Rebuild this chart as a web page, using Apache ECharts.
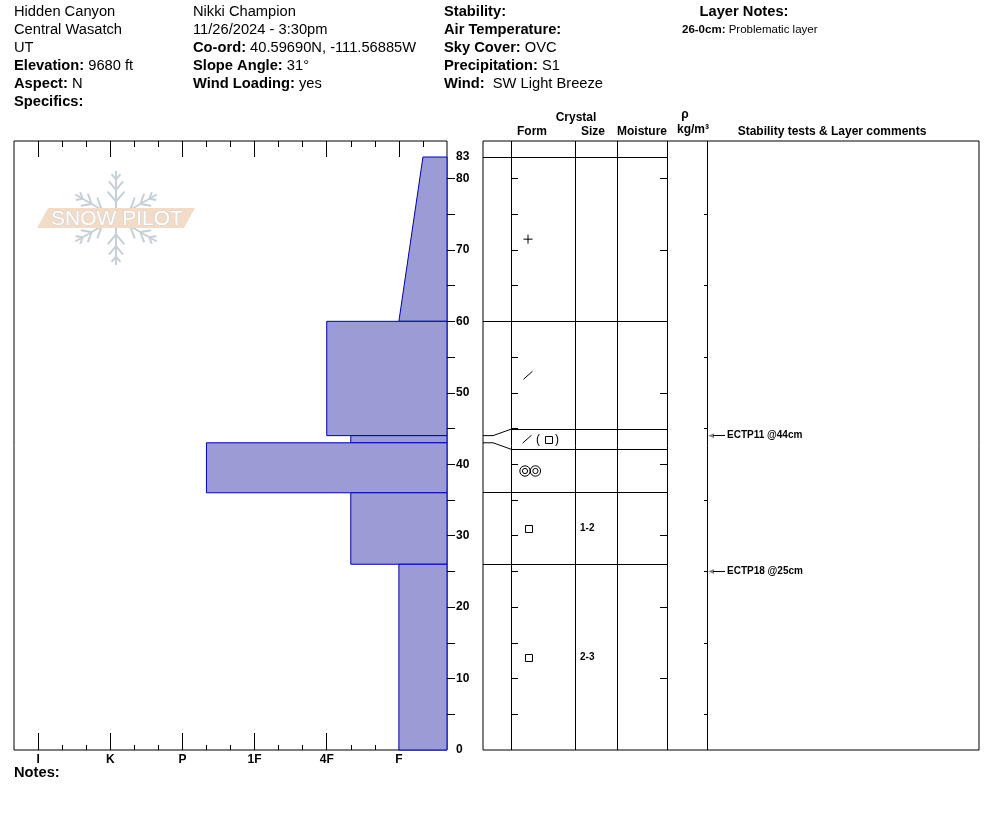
<!DOCTYPE html>
<html>
<head>
<meta charset="utf-8">
<title>Hidden Canyon - snow profile</title>
<script src="https://cdn.jsdelivr.net/npm/echarts@6/dist/echarts.min.js"></script>
<style>
html, body { margin: 0; padding: 0; background: #fff; }
#pit { width: 994px; height: 840px; }
</style>
</head>
<body>
<div id="pit"></div>
<script>
var FONT = '"Liberation Sans", Arial, sans-serif';

// layers, top to bottom, heights in cm above ground
var layerTop = [83, 60, 44, 43, 36, 26];
var layerBottom = [60, 44, 43, 36, 26, 0];
var hardTop = ['F-', '4F', '4F-', 'P-', '4F-', 'F'];
var hardBottom = ['F', '4F', '4F-', 'P-', '4F-', 'F'];
var formPrimary = ['PP', 'DF', 'DF', 'MFcl', 'FC', 'FC'];
var formSecondary = ['', '', 'FC', '', '', ''];
var grainSize = ['', '', '', '', '1-2', '2-3'];

// stability tests
var testDepth = [44, 25];
var testText = ['ECTP11 @44cm', 'ECTP18 @25cm'];

// axes
var hardnessLabels = ['F', '4F', '1F', 'P', 'K', 'I'];
var hardMajor = [2, 5, 8, 11, 14, 17];
var hardMinor = [1, 3, 4, 6, 7, 9, 10, 12, 13, 15, 16];
var depthLabels = [0, 10, 20, 30, 40, 50, 60, 70, 80, 83];
var depthTicks = [5, 10, 15, 20, 25, 30, 35, 40, 45, 50, 55, 60, 65, 70, 75, 80];
var depthTicks10 = [10, 20, 30, 40, 50, 60, 70, 80];
var depthTicks5 = [5, 15, 25, 35, 45, 55, 65, 75];

var YMAX = 85.24;
// right table column edges, px from the left of the table
var colEdges = [0, 28, 92, 134, 184, 224, 496];
var MIN_ROW_PX = 20;

function hardRank(h) {
    var base = h.replace(/[+-]$/, '');
    var r = hardnessLabels.indexOf(base) * 3 + 2;
    if (/-$/.test(h)) r -= 1;
    if (/\+$/.test(h)) r += 1;
    return r;
}

function crisp(v) { return Math.round(v - 0.5) + 0.5; }

var hardnessData = [];
for (var i = 0; i < layerTop.length; i++) {
    hardnessData.push([layerBottom[i], layerTop[i], hardRank(hardBottom[i]), hardRank(hardTop[i])]);
}
var layerIdx = layerTop.map(function (d, i) { return [i]; });

function layerPx(i, api) {
    var top = api.coord([0, layerTop[i]])[1];
    var bot = api.coord([0, layerBottom[i]])[1];
    var r = { top: top, bot: bot, aTop: top, aBot: bot, thin: false };
    if (bot - top < MIN_ROW_PX) {
        var mid = (top + bot) / 2;
        r.top = mid - MIN_ROW_PX / 2;
        r.bot = mid + MIN_ROW_PX / 2;
        r.thin = true;
    }
    return r;
}

function rowBox(i, api) {
    var r = layerPx(i, api);
    if (!r.thin) {
        if (i > 0 && layerPx(i - 1, api).thin) r.top = layerPx(i - 1, api).bot;
        if (i < layerTop.length - 1 && layerPx(i + 1, api).thin) r.bot = layerPx(i + 1, api).top;
    }
    return r;
}

function colX(k, api) { return api.coord([colEdges[k], 0])[0]; }

var ink = { stroke: '#000', lineWidth: 1, fill: null };

function hline(x1, x2, y) {
    return { type: 'line', shape: { x1: x1, y1: crisp(y), x2: x2, y2: crisp(y) }, style: ink };
}

function grainShape(code, x, y) {
    if (code === 'PP') {
        return [
            { type: 'line', shape: { x1: x - 4.5, y1: y, x2: x + 4.5, y2: y }, style: ink },
            { type: 'line', shape: { x1: x, y1: y - 4.5, x2: x, y2: y + 4.5 }, style: ink }
        ];
    }
    if (code === 'DF') {
        return [{ type: 'line', shape: { x1: x - 4.5, y1: y + 4, x2: x + 4.5, y2: y - 4 }, style: ink }];
    }
    if (code === 'FC') {
        return [{ type: 'rect', shape: { x: Math.round(x - 3.5) + 0.5, y: Math.round(y - 3.5) + 0.5, width: 7, height: 7 }, style: ink }];
    }
    if (code === 'MFcl') {
        return [
            { type: 'circle', shape: { cx: x - 3, cy: y, r: 5.2 }, style: ink },
            { type: 'circle', shape: { cx: x - 3, cy: y, r: 2.6 }, style: ink },
            { type: 'circle', shape: { cx: x + 7.4, cy: y, r: 5.2 }, style: ink },
            { type: 'circle', shape: { cx: x + 7.4, cy: y, r: 2.6 }, style: ink }
        ];
    }
    return [];
}

function txt(text, x, y, size, weight, align) {
    return {
        type: 'text', x: x, y: y,
        style: { text: text, fontSize: size, fontWeight: weight || 'normal', fontFamily: FONT, fill: '#000',
            align: align || 'left', verticalAlign: 'middle' }
    };
}

function richTxt(text, x, y, size) {
    return {
        type: 'text', x: x, y: y,
        style: {
            text: text, fontSize: size, fontFamily: FONT, fill: '#000', verticalAlign: 'middle',
            rich: {
                b: { fontWeight: 'bold', fontSize: size, fontFamily: FONT, fill: '#000' },
                n: { fontSize: size, fontFamily: FONT, fill: '#000' }
            }
        }
    };
}

// header text
var HS = 14.7;
var headerCol1 = ['{n|Hidden Canyon}', '{n|Central Wasatch}', '{n|UT}', '{b|Elevation:}{n| 9680 ft}', '{b|Aspect:}{n| N}', '{b|Specifics:}'];
var headerCol2 = ['{n|Nikki Champion}', '{n|11/26/2024 - 3:30pm}', '{b|Co-ord:}{n| 40.59690N, -111.56885W}', '{b|Slope Angle:}{n| 31°}', '{b|Wind Loading:}{n| yes}'];
var headerCol3 = ['{b|Stability:}', '{b|Air Temperature:}', '{b|Sky Cover:}{n| OVC}', '{b|Precipitation:}{n| S1}', '{b|Wind:}{n|  SW Light Breeze}'];

var graphics = [];
[[14, headerCol1], [193, headerCol2], [444, headerCol3]].forEach(function (c) {
    c[1].forEach(function (t, k) { graphics.push(richTxt(t, c[0], 12 + k * 18, HS)); });
});
graphics.push(txt('Layer Notes:', 744, 12, HS, 'bold', 'center'));
graphics.push(richTxt('{b|26-0cm:}{n| Problematic layer}', 682, 30, 11.5));
graphics.push(txt('Notes:', 14, 773, HS, 'bold'));

// table column headings
graphics.push(txt('Crystal', 576, 118, 12, 'bold', 'center'));
graphics.push(txt('Form', 532, 132, 12, 'bold', 'center'));
graphics.push(txt('Size', 593, 132, 12, 'bold', 'center'));
graphics.push(txt('Moisture', 642, 132, 12, 'bold', 'center'));
graphics.push(txt('ρ', 685, 115, 12, 'bold', 'center'));
graphics.push(txt('kg/m³', 693, 130, 12, 'bold', 'center'));
graphics.push(txt('Stability tests & Layer comments', 832, 132, 12, 'bold', 'center'));

// snow pilot watermark
(function () {
    var cx = 116, cy = 218, L = 47;
    var flake = [];
    var fstyle = { stroke: '#c7d0d8', lineWidth: 2 };
    [90, 30, -30, -90, -150, 150].forEach(function (a) {
        var rad = a * Math.PI / 180;
        var dx = Math.cos(rad), dy = -Math.sin(rad);
        flake.push({ type: 'line', shape: { x1: cx, y1: cy, x2: cx + dx * L, y2: cy + dy * L }, style: fstyle });
        [[0.35, 13], [0.6, 11], [0.82, 7]].forEach(function (b) {
            var px = cx + dx * L * b[0], py = cy + dy * L * b[0];
            [40, -40].forEach(function (s) {
                var r2 = (a + s) * Math.PI / 180;
                flake.push({ type: 'line', shape: { x1: px, y1: py, x2: px + Math.cos(r2) * b[1], y2: py - Math.sin(r2) * b[1] }, style: fstyle });
            });
        });
    });
    graphics.push({ type: 'group', z: 0, children: flake });
    graphics.push({ type: 'polygon', z: 1, shape: { points: [[37, 228], [48, 208], [195, 208], [184, 228]] }, style: { fill: '#f3dcc7' } });
    graphics.push({
        type: 'text', z: 2, x: 117, y: 219,
        style: { text: 'SNOW PILOT', fontSize: 21, fontFamily: FONT, fill: '#ffffff', stroke: '#cfcfcf', lineWidth: 1,
            align: 'center', verticalAlign: 'middle' }
    });
})();

function valueAxis(extra) {
    var base = {
        type: 'value', axisLine: { show: false }, splitLine: { show: false },
        axisTick: { show: false }, axisLabel: { show: false }
    };
    for (var k in extra) base[k] = extra[k];
    return base;
}

var tickStyle = { color: '#000', width: 1 };
var labelStyle = { color: '#000', fontSize: 12, fontWeight: 'bold', fontFamily: FONT };

var option = {
    animation: false,
    backgroundColor: '#fff',
    grid: [
        { left: 14, top: 141, width: 433, height: 609, show: true, borderColor: '#000', borderWidth: 1, backgroundColor: 'transparent' },
        { left: 483, top: 141, width: 496, height: 609, show: true, borderColor: '#000', borderWidth: 1, backgroundColor: 'transparent' },
        { left: 511, top: 141, width: 64, height: 609 },
        { left: 667, top: 141, width: 40, height: 609 }
    ],
    xAxis: [
        valueAxis({ gridIndex: 0, position: 'bottom', min: 0, max: 18, inverse: true,
            axisTick: { show: true, inside: true, length: 5, customValues: hardMinor, lineStyle: tickStyle } }),
        valueAxis({ gridIndex: 0, position: 'bottom', min: 0, max: 18, inverse: true,
            axisTick: { show: true, inside: true, length: 17, customValues: hardMajor, lineStyle: tickStyle },
            axisLabel: Object.assign({ show: true, margin: 4, customValues: hardMajor,
                formatter: function (v) { return hardnessLabels[hardMajor.indexOf(Math.round(v))]; } }, labelStyle) }),
        valueAxis({ gridIndex: 0, position: 'top', min: 0, max: 18, inverse: true,
            axisTick: { show: true, inside: true, length: 6, customValues: hardMinor, lineStyle: tickStyle } }),
        valueAxis({ gridIndex: 0, position: 'top', min: 0, max: 18, inverse: true,
            axisTick: { show: true, inside: true, length: 16, customValues: hardMajor, lineStyle: tickStyle } }),
        valueAxis({ gridIndex: 1, min: 0, max: 496, show: false }),
        valueAxis({ gridIndex: 2, min: 0, max: 1, show: false }),
        valueAxis({ gridIndex: 3, min: 0, max: 1, show: false })
    ],
    yAxis: [
        valueAxis({ gridIndex: 0, position: 'left', min: 0, max: YMAX,
            axisTick: { show: true, inside: true, length: 8, customValues: depthTicks, lineStyle: tickStyle } }),
        valueAxis({ gridIndex: 0, position: 'right', min: 0, max: YMAX,
            axisTick: { show: true, inside: true, length: 7, customValues: depthTicks, lineStyle: tickStyle },
            axisLabel: Object.assign({ show: true, margin: 9, customValues: depthLabels }, labelStyle) }),
        valueAxis({ gridIndex: 1, min: 0, max: YMAX, show: false }),
        valueAxis({ gridIndex: 2, position: 'left', min: 0, max: YMAX,
            axisTick: { show: true, inside: true, length: 7, customValues: depthTicks, lineStyle: tickStyle } }),
        valueAxis({ gridIndex: 3, position: 'right', min: 0, max: YMAX,
            axisTick: { show: true, inside: true, length: 7, customValues: depthTicks10, lineStyle: tickStyle } }),
        valueAxis({ gridIndex: 3, position: 'right', min: 0, max: YMAX,
            axisTick: { show: true, inside: true, length: 3, customValues: depthTicks5, lineStyle: tickStyle } })
    ],
    graphic: graphics,
    series: [
        {
            name: 'Hardness', type: 'custom', xAxisIndex: 0, yAxisIndex: 0, z: 3,
            data: hardnessData,
            renderItem: function (params, api) {
                var b = api.value(0), t = api.value(1), hb = api.value(2), ht = api.value(3);
                return {
                    type: 'polygon',
                    shape: { points: [api.coord([0, b]), api.coord([hb, b]), api.coord([ht, t]), api.coord([0, t])] },
                    style: { fill: '#9b9bd6', stroke: '#0000b0', lineWidth: 1 }
                };
            }
        },
        {
            name: 'Columns', type: 'custom', xAxisIndex: 4, yAxisIndex: 2, z: 3,
            data: colEdges.slice(1, 6).map(function (e) { return [e]; }),
            renderItem: function (params, api) {
                var top = api.coord([api.value(0), YMAX]);
                var bot = api.coord([api.value(0), 0]);
                var x = crisp(top[0]);
                return { type: 'line', shape: { x1: x, y1: top[1], x2: x, y2: bot[1] }, style: ink };
            }
        },
        {
            name: 'Layers', type: 'custom', xAxisIndex: 4, yAxisIndex: 2, z: 4,
            data: layerIdx,
            renderItem: function (params, api) {
                var i = api.value(0);
                var r = rowBox(i, api);
                var x0 = colX(0, api), x1 = colX(1, api), x2 = colX(2, api), x4 = colX(4, api);
                var kids = [];
                if (r.thin) {
                    kids.push(hline(x1, x4, r.top));
                    kids.push(hline(x1, x4, r.bot));
                    kids.push({ type: 'polyline', shape: { points: [[x0, r.aTop], [x0 + 10, r.aTop], [x1, r.top]] }, style: ink });
                    kids.push({ type: 'polyline', shape: { points: [[x0, r.aBot], [x0 + 10, r.aBot], [x1, r.bot]] }, style: ink });
                } else if (i === 0 || !layerPx(i - 1, api).thin) {
                    kids.push(hline(x0, x4, r.top));
                }
                var cy = (r.top + r.bot) / 2;
                var cx = x0 + 45;
                if (formSecondary[i]) {
                    kids = kids.concat(grainShape(formPrimary[i], cx - 1, cy));
                    kids.push(txt('(', cx + 10, cy, 12, 'normal', 'center'));
                    kids = kids.concat(grainShape(formSecondary[i], cx + 20, cy));
                    kids.push(txt(')', cx + 29, cy, 12, 'normal', 'center'));
                } else {
                    kids = kids.concat(grainShape(formPrimary[i], cx, cy));
                }
                if (grainSize[i]) kids.push(txt(grainSize[i], x2 + 5, cy, 10, 'bold'));
                return { type: 'group', children: kids };
            }
        },
        {
            name: 'Tests', type: 'custom', xAxisIndex: 4, yAxisIndex: 2, z: 4,
            data: testDepth.map(function (d, i) { return [d, i]; }),
            renderItem: function (params, api) {
                var y = api.coord([0, api.value(0)])[1];
                var x = colX(5, api);
                return {
                    type: 'group',
                    children: [
                        { type: 'polygon', shape: { points: [[x + 1, y], [x + 7, y - 2.5], [x + 7, y + 2.5]] }, style: { fill: '#888' } },
                        { type: 'line', shape: { x1: x + 6, y1: crisp(y), x2: x + 18, y2: crisp(y) }, style: ink },
                        txt(testText[api.value(1)], x + 20, y, 10, 'bold')
                    ]
                };
            }
        }
    ]
};

var chart = echarts.init(document.getElementById('pit'));
chart.setOption(option);
</script>
</body>
</html>
